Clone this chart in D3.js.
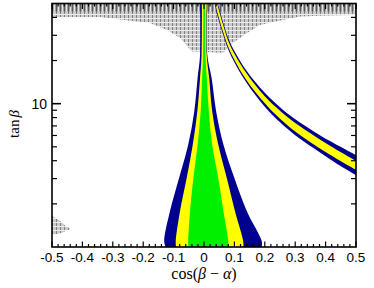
<!DOCTYPE html>
<html><head><meta charset="utf-8">
<script src="https://cdn.jsdelivr.net/npm/d3@7"></script>
<style>body{margin:0;background:#fff} svg{display:block}</style>
</head><body><svg id="c" width="374" height="288"></svg>
<script>
// ---- data ----
const xTickValues = [-0.5,-0.4,-0.3,-0.2,-0.1,0,0.1,0.2,0.3,0.4,0.5];
const xTickLabels = ["-0.5","-0.4","-0.3","-0.2","-0.1","0","0.1","0.2","0.3","0.4","0.5"];
const yMajorTicks = [10];
const yTickLabels = ["10"];
const yMinorTicks = [2,3,4,5,6,7,8,9,20,30,40];

// central funnel (tanβ levels, left/right cos(β-α) edges)
const funnelTan = [50, 21.9, 15.15, 8.83, 5.17, 3.03, 1.776, 1.097, 1.0];
const blueL   = [-0.013, -0.013, -0.021, -0.032, -0.052, -0.082, -0.112, -0.131, -0.126];
const blueR   = [0.011, 0.011, 0.025, 0.040, 0.064, 0.100, 0.141, 0.190, 0.190];
const yellowL = [-0.007, -0.008, -0.013, -0.022, -0.037, -0.057, -0.079, -0.093, -0.092];
const yellowR = [0.009, 0.009, 0.017, 0.027, 0.047, 0.075, 0.102, 0.129, 0.130];
const greenL  = [-0.002, -0.003, -0.006, -0.011, -0.021, -0.035, -0.046, -0.052, -0.052];
const greenR  = [0.004, 0.005, 0.009, 0.016, 0.027, 0.047, 0.064, 0.080, 0.080];

// right (wrong-sign) band: cos values and tanβ of its edges
const bandCos      = [0.035, 0.042, 0.0635, 0.0855, 0.14, 0.20, 0.25, 0.30, 0.36, 0.4145, 0.50, 0.52];
const bandBlueHi   = [63.8, 53.8, 36.55, 26.8, 16.94, 11.91, 9.44, 7.79, 6.43, 5.48, 4.37, 4.17];
const bandYellowHi = [60.8, 51.3, 35.1, 25.7, 16.28, 11.26, 8.92, 7.33, 6.03, 5.09, 4.00, 3.82];
const bandYellowLo = [53.5, 45.1, 31.4, 23.3, 14.55, 10.07, 7.85, 6.40, 5.22, 4.41, 3.46, 3.30];
const bandBlueLo   = [51.0, 43.0, 30.15, 22.4, 13.98, 9.52, 7.42, 6.03, 4.90, 4.10, 3.17, 3.02];

// excluded (hatched) region at large tanβ: lower boundary
const hatchCos = [-0.5, -0.342, -0.276, -0.178, -0.122, -0.079, -0.040, 0.0635, 0.0855, 0.1405, 0.184, 0.25, 0.316, 0.382, 0.5];
const hatchTan = [40.3, 40.3, 38.7, 36.6, 32.7, 28.8, 23.1, 22.7, 25.7, 31.0, 35.4, 38.0, 40.5, 41.1, 41.6];
const hatchTopTan = 44;
// small excluded blob at low tanβ
const blobCos = [-0.501, -0.479, -0.457, -0.441, -0.457, -0.479, -0.501];
const blobTan = [1.657, 1.554, 1.411, 1.339, 1.288, 1.236, 1.222];

// ---- layout ----
const L = 52, R = 356, T = 3.5, B = 247;
const svg = d3.select("#c");
const x = d3.scaleLinear().domain([-0.5, 0.5]).range([L, R]);
const y = d3.scaleLog().domain([1, 50]).range([B, T]);
const line = d3.line().x(d => x(d[0])).y(d => y(d[1]));
const smooth = d3.line().x(d => x(d[0])).y(d => y(d[1])).curve(d3.curveCatmullRom.alpha(0.5));

const defs = svg.append("defs");
defs.append("clipPath").attr("id","clip").append("rect")
  .attr("x", L).attr("y", T).attr("width", R-L).attr("height", B-T);
const pA = defs.append("pattern").attr("id","hatchA").attr("patternUnits","userSpaceOnUse")
  .attr("width",4).attr("height",4);
pA.append("rect").attr("width",4).attr("height",4).attr("fill","#cbcbcb");
pA.append("rect").attr("x",0).attr("y",0).attr("width",1).attr("height",4).attr("fill","#808080");
pA.append("rect").attr("x",0).attr("y",2).attr("width",4).attr("height",1).attr("fill","#eeeeee");
const pB = defs.append("pattern").attr("id","hatchB").attr("patternUnits","userSpaceOnUse")
  .attr("width",4).attr("height",3);
pB.append("rect").attr("width",4).attr("height",3).attr("fill","#a0a0a0");
pB.append("rect").attr("x",2).attr("y",0).attr("width",1).attr("height",3).attr("fill","#e6e6e6");
pB.append("rect").attr("x",0).attr("y",0).attr("width",1).attr("height",3).attr("fill","#5a5a5a");

const g = svg.append("g").attr("clip-path","url(#clip)");

// hatched regions
const hatchPoly = hatchCos.map((c,i)=>[c, hatchTan[i]]).concat([[0.5, 50], [-0.5, 50]]);
g.append("path").attr("d", line(hatchPoly) + "Z").attr("fill","url(#hatchA)");
g.append("path").attr("d", line([[-0.5,hatchTopTan],[0.5,hatchTopTan],[0.5,50],[-0.5,50]]) + "Z").attr("fill","url(#hatchB)");
g.append("path").attr("d", smooth(blobCos.map((c,i)=>[c, blobTan[i]])) + "Z").attr("fill","url(#hatchA)");

// join two smooth edges into one closed path
function joinEdges(a, b) {
  return smooth(a) + "L" + smooth(b.slice().reverse()).substring(1) + "Z";
}
// funnel
function funnel(lArr, rArr) {
  return joinEdges(lArr.map((c,i)=>[c, funnelTan[i]]), rArr.map((c,i)=>[c, funnelTan[i]]));
}
g.append("path").attr("d", funnel(blueL, blueR)).attr("fill","#000090");
g.append("path").attr("d", funnel(yellowL, yellowR)).attr("fill","#ffff00");
g.append("path").attr("d", funnel(greenL, greenR)).attr("fill","#00f000");

// right band
function band(hi, lo) {
  return joinEdges(bandCos.map((c,i)=>[c, hi[i]]), bandCos.map((c,i)=>[c, lo[i]]));
}
g.append("path").attr("d", band(bandBlueHi, bandBlueLo)).attr("fill","#000090");
g.append("path").attr("d", band(bandYellowHi, bandYellowLo)).attr("fill","#ffff00");

// ---- axes frame & ticks ----
const ax = svg.append("g").attr("stroke","#000").attr("fill","none");
ax.append("rect").attr("x",L).attr("y",T).attr("width",R-L).attr("height",B-T).attr("stroke-width",1.6);
const xMinor = d3.range(-0.5, 0.5001, 0.02).map(v=>+v.toFixed(2));
xMinor.forEach(v=>{
  const major = xTickValues.some(t=>Math.abs(t-v)<1e-6);
  const len = major ? 5.5 : 3;
  ax.append("line").attr("x1",x(v)).attr("x2",x(v)).attr("y1",B).attr("y2",B-len).attr("stroke-width",1.2);
  ax.append("line").attr("x1",x(v)).attr("x2",x(v)).attr("y1",T).attr("y2",T+len).attr("stroke-width",1.2);
});
yMajorTicks.forEach(v=>{
  ax.append("line").attr("x1",L).attr("x2",L+9).attr("y1",y(v)).attr("y2",y(v)).attr("stroke-width",1.6);
  ax.append("line").attr("x1",R).attr("x2",R-9).attr("y1",y(v)).attr("y2",y(v)).attr("stroke-width",1.6);
});
yMinorTicks.forEach(v=>{
  ax.append("line").attr("x1",L).attr("x2",L+5).attr("y1",y(v)).attr("y2",y(v)).attr("stroke-width",1.2);
  ax.append("line").attr("x1",R).attr("x2",R-5).attr("y1",y(v)).attr("y2",y(v)).attr("stroke-width",1.2);
});

// tick labels
svg.append("g").selectAll("text").data(xTickValues).join("text")
  .attr("x", d=>x(d)).attr("y", 262).attr("text-anchor","middle")
  .attr("font-family","Liberation Sans, Arial, sans-serif").attr("font-size",13.5)
  .text((d,i)=>xTickLabels[i]);
svg.append("g").selectAll("text").data(yMajorTicks).join("text")
  .attr("x", 47).attr("y", d=>y(d)+5).attr("text-anchor","end")
  .attr("font-family","Liberation Sans, Arial, sans-serif").attr("font-size",14)
  .text((d,i)=>yTickLabels[i]);

// axis titles
const xt = svg.append("text").attr("x", 204).attr("y", 279).attr("text-anchor","middle")
  .attr("font-family","Liberation Serif, Times New Roman, serif").attr("font-size",16);
xt.append("tspan").text("cos(");
xt.append("tspan").attr("font-style","italic").text("β");
xt.append("tspan").text(" − ");
xt.append("tspan").attr("font-style","italic").text("α");
xt.append("tspan").text(")");
const yt = svg.append("text").attr("transform","translate(19,124) rotate(-90)").attr("text-anchor","middle")
  .attr("font-family","Liberation Serif, Times New Roman, serif").attr("font-size",15);
yt.append("tspan").text("tan");
yt.append("tspan").attr("font-style","italic").attr("dx",2).text("β");
</script></body></html>
